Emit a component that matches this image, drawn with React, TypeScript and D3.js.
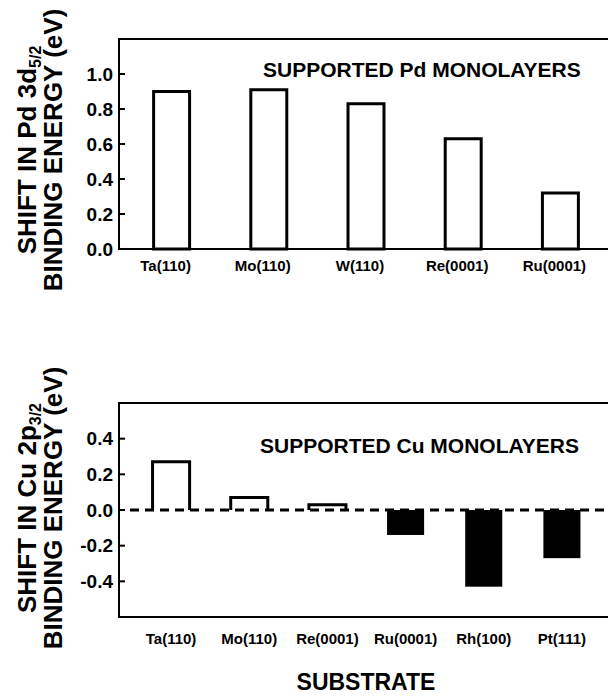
import * as d3 from "d3";

// values
const pdSubstrates = ["Ta(110)", "Mo(110)", "W(110)", "Re(0001)", "Ru(0001)"];
const pdShift = [0.9, 0.91, 0.83, 0.63, 0.32];
const pdTicks = [0.0, 0.2, 0.4, 0.6, 0.8, 1.0];

const cuSubstrates = ["Ta(110)", "Mo(110)", "Re(0001)", "Ru(0001)", "Rh(100)", "Pt(111)"];
const cuShift = [0.27, 0.07, 0.03, -0.14, -0.43, -0.27];
const cuTicks = [-0.4, -0.2, 0.0, 0.2, 0.4];

const FONT = "'Liberation Sans', Arial, sans-serif";
const W = 608;
const H = 696;
const left = 119;

function YTitle({ cy, element, orbital, sub }) {
  return (
    <g fontFamily={FONT} fontWeight="bold" fontSize={26} fill="#000">
      <text transform={`translate(36,${cy}) rotate(-90)`} textAnchor="middle">
        {`SHIFT IN ${element} ${orbital}`}
        <tspan fontSize={16} dy={5}>{sub}</tspan>
      </text>
      <text transform={`translate(62,${cy}) rotate(-90)`} textAnchor="middle">
        BINDING ENERGY (eV)
      </text>
    </g>
  );
}

function PdPanel() {
  const top = 39;
  const bottom = 249;
  const y = d3.scaleLinear().domain([0, 1.2]).range([bottom, top]);
  const x = d3.scaleBand().domain(pdSubstrates).range([123, 609]).paddingInner(0.63).paddingOuter(0.315);
  const fmt = (d) => d.toFixed(1);

  return (
    <g>
      <path d={`M${W + 20},${top}H${left}V${bottom}H${W + 20}`} fill="none" stroke="#000" strokeWidth={2} />
      {pdTicks.map((t) => (
        <g key={t}>
          <line x1={left} x2={left + 6} y1={y(t)} y2={y(t)} stroke="#000" strokeWidth={2} />
          <text x={113} y={y(t)} dy="0.35em" textAnchor="end" fontFamily={FONT} fontWeight="bold" fontSize={19}>
            {fmt(t)}
          </text>
        </g>
      ))}
      {pdSubstrates.map((s, i) => (
        <rect
          key={s}
          x={x(s)}
          y={y(pdShift[i])}
          width={x.bandwidth()}
          height={y(0) - y(pdShift[i])}
          fill="#fff"
          stroke="#000"
          strokeWidth={3}
        />
      ))}
      {pdSubstrates.map((s) => (
        <text key={s} x={x(s) + x.bandwidth() / 2 - 6} y={271} textAnchor="middle" fontFamily={FONT} fontWeight="bold" fontSize={15}>
          {s}
        </text>
      ))}
      <text x={263} y={77} fontFamily={FONT} fontWeight="bold" fontSize={21}>
        SUPPORTED Pd MONOLAYERS
      </text>
      <YTitle cy={150} element="Pd" orbital="3d" sub="5/2" />
    </g>
  );
}

function CuPanel() {
  const top = 403;
  const bottom = 617;
  const y = d3.scaleLinear().domain([-0.6, 0.6]).range([bottom, top]);
  const x = d3.scaleBand().domain(cuSubstrates).range([132, 601]).paddingInner(0.526).paddingOuter(0.263);
  const fmt = (d) => d.toFixed(1);

  return (
    <g>
      <path d={`M${W + 20},${top}H${left}V${bottom}H${W + 20}`} fill="none" stroke="#000" strokeWidth={2} />
      {cuTicks.map((t) => (
        <g key={t}>
          <line x1={left} x2={left + 6} y1={y(t)} y2={y(t)} stroke="#000" strokeWidth={2} />
          <text x={113} y={y(t)} dy="0.35em" textAnchor="end" fontFamily={FONT} fontWeight="bold" fontSize={19}>
            {fmt(t)}
          </text>
        </g>
      ))}
      {cuSubstrates.map((s, i) => {
        const v = cuShift[i];
        const x0 = x(s);
        const w = x.bandwidth();
        if (v >= 0) {
          return (
            <path
              key={s}
              d={`M${x0},${y(0)}V${y(v)}H${x0 + w}V${y(0)}`}
              fill="#fff"
              stroke="#000"
              strokeWidth={3}
            />
          );
        }
        return <rect key={s} x={x0} y={y(0)} width={w} height={y(v) - y(0)} fill="#000" />;
      })}
      <line x1={130} x2={W} y1={y(0)} y2={y(0)} stroke="#000" strokeWidth={3} strokeDasharray="9,6" />
      {cuSubstrates.map((s) => (
        <text key={s} x={x(s) + x.bandwidth() / 2} y={644} textAnchor="middle" fontFamily={FONT} fontWeight="bold" fontSize={15}>
          {s}
        </text>
      ))}
      <text x={260} y={453} fontFamily={FONT} fontWeight="bold" fontSize={21}>
        SUPPORTED Cu MONOLAYERS
      </text>
      <YTitle cy={508} element="Cu" orbital="2p" sub="3/2" />
    </g>
  );
}

export default function App() {
  return (
    <svg
      width={W}
      height={H}
      viewBox={`0 0 ${W} ${H}`}
      style={{ position: "absolute", left: 0, top: 0, background: "#fff" }}
    >
      <rect width={W} height={H} fill="#fff" />
      <PdPanel />
      <CuPanel />
      <text x={366} y={690} textAnchor="middle" fontFamily={FONT} fontWeight="bold" fontSize={23}>
        SUBSTRATE
      </text>
    </svg>
  );
}
